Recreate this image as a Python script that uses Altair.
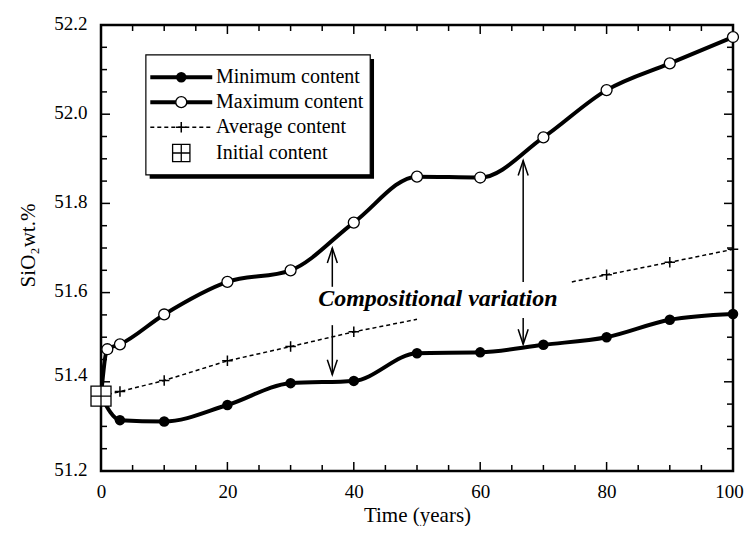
import altair as alt
import pandas as pd

# ---------------- data ----------------
time_max = [0, 1, 3, 10, 20, 30, 40, 50, 60, 70, 80, 90, 100]
val_max = [51.368, 51.473, 51.484, 51.551, 51.624, 51.650, 51.757, 51.860, 51.858, 51.948, 52.054, 52.114, 52.173]

time_min = [0, 3, 10, 20, 30, 40, 50, 60, 70, 80, 90, 100]
val_min = [51.368, 51.314, 51.311, 51.348, 51.397, 51.402, 51.464, 51.466, 51.483, 51.500, 51.539, 51.552]

# average content: visible in two pieces (hidden behind the annotation text)
time_avg_a = [0, 3, 10, 20, 30, 40, 50]
val_avg_a = [51.368, 51.378, 51.403, 51.447, 51.479, 51.512, 51.540]
time_avg_b = [74.5, 80, 90, 100]
val_avg_b = [51.624, 51.640, 51.668, 51.697]
avg_marker_times = [3, 10, 20, 30, 40, 80, 90, 100]

initial_time = [0]
initial_val = [51.368]

x_major = [0, 20, 40, 60, 80, 100]
x_minor = [5, 10, 15, 25, 30, 35, 45, 50, 55, 65, 70, 75, 85, 90, 95]
y_major = [51.2, 51.4, 51.6, 51.8, 52.0, 52.2]
y_minor = [51.25, 51.3, 51.35, 51.45, 51.5, 51.55, 51.65, 51.7, 51.75,
           51.85, 51.9, 51.95, 52.05, 52.1, 52.15]

legend_labels = ["Minimum content", "Maximum content", "Average content", "Initial content"]
legend_rows = [52.083, 52.027, 51.971, 51.913]

annotation = "Compositional variation"

FONT = "Liberation Serif, Times New Roman, serif"
W, H = 632, 446

xs = alt.Scale(domain=[0, 100], nice=False, zero=False)
ys = alt.Scale(domain=[51.2, 52.2], nice=False, zero=False)

x_axis = alt.Axis(values=x_major, title="Time (years)", titleFont=FONT, titleFontSize=21,
                  titleFontWeight="normal", titleColor="black", labelPadding=11,
                  labelFlush=False,
                  labelOffset={"condition": {"test": "datum.value == 100", "value": -4}, "value": 0},
                  titleX=316, titleY=44, titleBaseline="middle", titleAlign="center")
y_axis = alt.Axis(values=y_major, format=".1f", title="SiO\u2082wt.%", titleFont=FONT,
                  titleFontSize=21, titleFontWeight="normal", titleColor="black",
                  labelPadding=14, labelFlush=False,
                  labelOffset={"condition": {"test": "datum.value == 51.4", "value": -7}, "value": -2},
                  titleAngle=270, titleX=-73, titleY=220,
                  titleBaseline="middle", titleAlign="center")


def X(field="t"):
    return alt.X(f"{field}:Q", scale=xs, axis=x_axis)


def Y(field="v"):
    return alt.Y(f"{field}:Q", scale=ys, axis=y_axis)


layers = []

# ---------------- inward ticks on all four sides ----------------
for vals, ln in [(x_major, 9), (x_minor, 6)]:
    d = pd.DataFrame({"t": vals})
    layers.append(alt.Chart(d).mark_rule(color="black", strokeWidth=1.5).encode(
        x=X(), y=alt.value(H), y2=alt.value(H - ln)))
    layers.append(alt.Chart(d).mark_rule(color="black", strokeWidth=1.5).encode(
        x=X(), y=alt.value(0), y2=alt.value(ln)))
for vals, ln in [(y_major, 9), (y_minor, 6)]:
    d = pd.DataFrame({"v": vals})
    layers.append(alt.Chart(d).mark_rule(color="black", strokeWidth=1.5).encode(
        y=Y(), x=alt.value(0), x2=alt.value(ln)))
    layers.append(alt.Chart(d).mark_rule(color="black", strokeWidth=1.5).encode(
        y=Y(), x=alt.value(W), x2=alt.value(W - ln)))

# ---------------- average content ----------------
avg_df = pd.DataFrame({
    "t": time_avg_a + time_avg_b,
    "v": val_avg_a + val_avg_b,
    "seg": ["a"] * len(time_avg_a) + ["b"] * len(time_avg_b),
})
layers.append(alt.Chart(avg_df).mark_line(color="black", strokeWidth=1.5, strokeDash=[4, 3]).encode(
    x=X(), y=Y(), detail="seg:N"))
avg_pts = avg_df[avg_df["t"].isin(avg_marker_times)]
PLUS = "M-1,0H1M0,-1V1"
layers.append(alt.Chart(avg_pts).mark_point(shape=PLUS, size=110, filled=False, color="black",
                                            strokeWidth=1.5, opacity=1).encode(x=X(), y=Y()))

# ---------------- max / min lines ----------------
max_df = pd.DataFrame({"t": time_max, "v": val_max})
min_df = pd.DataFrame({"t": time_min, "v": val_min})
layers.append(alt.Chart(max_df).mark_line(color="black", strokeWidth=4, interpolate="monotone").encode(
    x=X(), y=Y()))
layers.append(alt.Chart(min_df).mark_line(color="black", strokeWidth=4, interpolate="monotone").encode(
    x=X(), y=Y()))
layers.append(alt.Chart(max_df[max_df["t"] > 0]).mark_point(
    shape="circle", size=120, filled=True, fill="white", stroke="black", strokeWidth=1.3, opacity=1
).encode(x=X(), y=Y()))
layers.append(alt.Chart(min_df[min_df["t"] > 0]).mark_point(
    shape="circle", size=110, filled=True, color="black", opacity=1
).encode(x=X(), y=Y()))

SQUARE = "M-1,-1H1V1H-1ZM0,-1V1M-1,0H1"
init_df = pd.DataFrame({"t": initial_time, "v": initial_val})
layers.append(alt.Chart(init_df).mark_point(
    shape=SQUARE, size=400, filled=True, fill="white", stroke="black", strokeWidth=1.3, opacity=1
).encode(x=X(), y=Y()))

# ---------------- legend ----------------
box = pd.DataFrame({"t": [7.1], "t2": [42.6], "v": [52.133], "v2": [51.864]})
shadow = pd.DataFrame({"t": [7.7], "t2": [43.2], "v": [52.124], "v2": [51.855]})
layers.append(alt.Chart(shadow).mark_rect(color="black").encode(
    x=X(), x2="t2:Q", y=Y(), y2="v2:Q"))
layers.append(alt.Chart(box).mark_rect(fill="white", stroke="black", strokeWidth=1.2).encode(
    x=X(), x2="t2:Q", y=Y(), y2="v2:Q"))

leg_solid = pd.DataFrame({"t": [7.8, 17.6, 7.8, 17.6],
                          "v": [legend_rows[0]] * 2 + [legend_rows[1]] * 2,
                          "row": ["a", "a", "b", "b"]})
layers.append(alt.Chart(leg_solid).mark_line(color="black", strokeWidth=4).encode(
    x=X(), y=Y(), detail="row:N"))
leg_dash = pd.DataFrame({"t": [7.8, 17.6], "v": [legend_rows[2]] * 2})
layers.append(alt.Chart(leg_dash).mark_line(color="black", strokeWidth=1.5, strokeDash=[4, 3]).encode(
    x=X(), y=Y()))
layers.append(alt.Chart(pd.DataFrame({"t": [12.7], "v": [legend_rows[0]]})).mark_point(
    shape="circle", size=110, filled=True, color="black", opacity=1).encode(x=X(), y=Y()))
layers.append(alt.Chart(pd.DataFrame({"t": [12.7], "v": [legend_rows[1]]})).mark_point(
    shape="circle", size=120, filled=True, fill="white", stroke="black", strokeWidth=1.3, opacity=1
).encode(x=X(), y=Y()))
layers.append(alt.Chart(pd.DataFrame({"t": [12.7], "v": [legend_rows[2]]})).mark_point(
    shape=PLUS, size=110, filled=False, color="black", strokeWidth=1.5, opacity=1).encode(x=X(), y=Y()))
layers.append(alt.Chart(pd.DataFrame({"t": [12.7], "v": [legend_rows[3]]})).mark_point(
    shape=SQUARE, size=300, filled=True, fill="white", stroke="black", strokeWidth=1.3, opacity=1
).encode(x=X(), y=Y()))
leg_text = pd.DataFrame({"t": [18.2] * 4, "v": legend_rows, "label": legend_labels})
layers.append(alt.Chart(leg_text).mark_text(align="left", baseline="middle", font=FONT,
                                            fontSize=20, color="black").encode(
    x=X(), y=Y(), text="label:N"))

# ---------------- annotation arrows ----------------
shafts = pd.DataFrame({
    "t": [36.6, 36.6, 66.8, 66.8],
    "v": [51.613, 51.527, 51.624, 51.543],
    "v2": [51.700, 51.416, 51.896, 51.484],
})
layers.append(alt.Chart(shafts).mark_rule(color="black", strokeWidth=1.5).encode(
    x=X(), y=Y(), y2="v2:Q"))
UP = "M-1,3L0,0L1,3"
DOWN = "M-1,-3L0,0L1,-3"
up_tips = pd.DataFrame({"t": [36.6, 66.8], "v": [51.700, 51.896]})
down_tips = pd.DataFrame({"t": [36.6, 66.8], "v": [51.416, 51.484]})
layers.append(alt.Chart(up_tips).mark_point(shape=UP, size=100, filled=False, color="black",
                                            strokeWidth=1.5, opacity=1).encode(x=X(), y=Y()))
layers.append(alt.Chart(down_tips).mark_point(shape=DOWN, size=100, filled=False, color="black",
                                              strokeWidth=1.5, opacity=1).encode(x=X(), y=Y()))

ann = pd.DataFrame({"t": [53.3], "v": [51.585], "label": [annotation]})
layers.append(alt.Chart(ann).mark_text(font=FONT, fontSize=24, fontWeight="bold", fontStyle="italic",
                                       align="center", baseline="middle", color="black").encode(
    x=X(), y=Y(), text="label:N"))

chart = alt.layer(*layers).properties(
    width=W, height=H,
    autosize=alt.AutoSizeParams(type="none"),
    padding={"left": 93, "top": 17, "right": 14, "bottom": 55},
    background="white",
).configure_view(stroke="black", strokeWidth=2.5).configure_axis(
    domain=False, ticks=False, tickSize=0, grid=False,
    labelFont=FONT, labelFontSize=19, labelColor="black",
)

chart.save("out.html", embed_options={"renderer": "svg", "actions": False})
